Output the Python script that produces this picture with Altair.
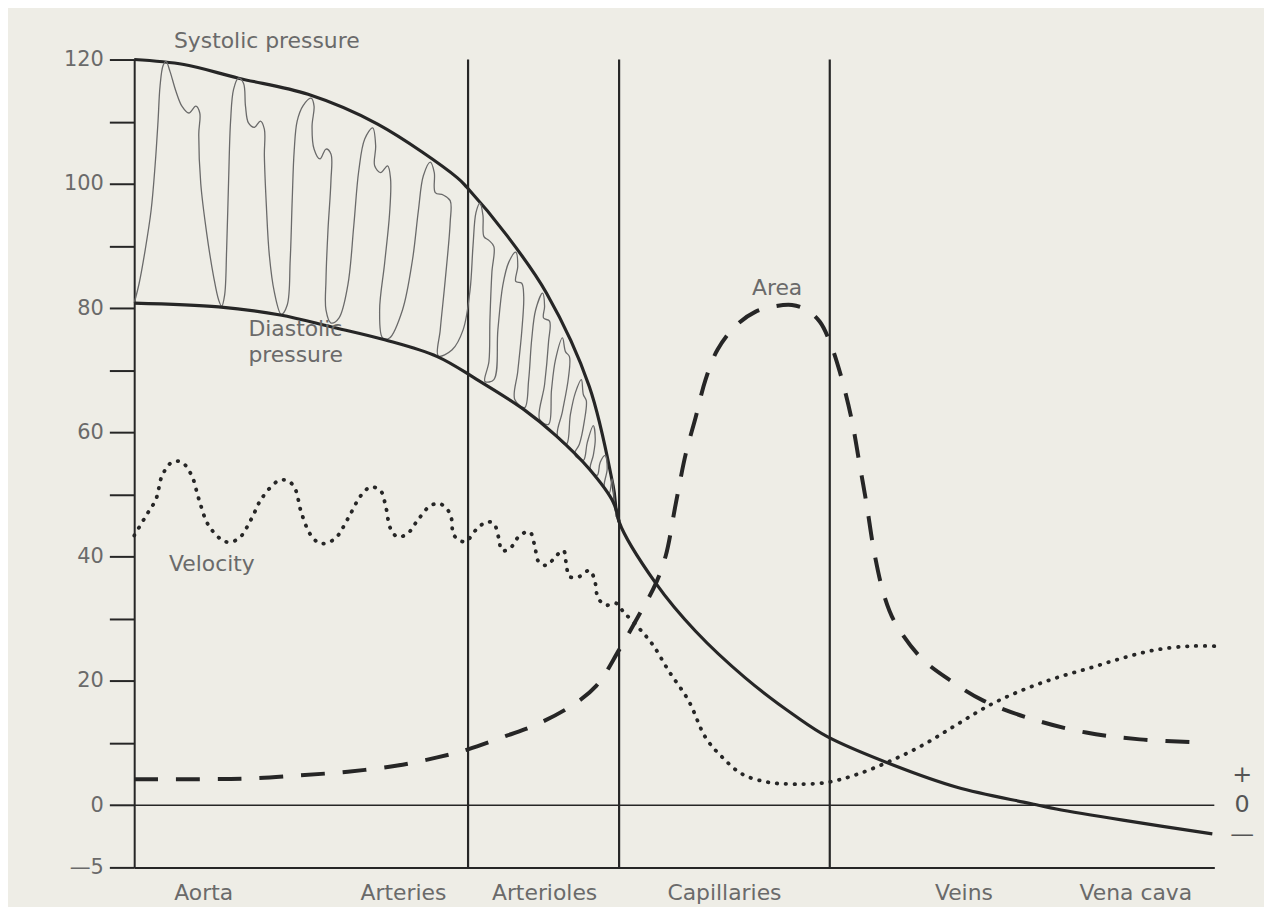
import altair as alt
import pandas as pd

# ---------------- data (x = position along the circulation, arbitrary units 0..1087; values in mmHg) -------------
# Systolic pressure, continuing as mean pressure after the arterioles
press_x = [0, 50, 105, 175, 245, 325, 335, 375, 415, 458, 482, 488,
           525, 565, 615, 665, 698, 765, 828, 895, 910, 928, 995, 1085]
press_v = [120, 119.2, 117.0, 114.4, 109.6, 101.0, 99.4, 91.7, 82.4, 67.4, 51.4, 45.6,
           35.7, 28.0, 20.5, 14.4, 11.0, 6.4, 2.9, 0.5, 0.0, -0.3, -1.2, -2.3]

# Diastolic pressure
dia_x = [0, 85, 147, 198, 252, 305, 345, 392, 425, 458, 482, 488]
dia_v = [80.8, 80.2, 78.9, 77.0, 74.9, 72.2, 68.5, 63.7, 59.4, 54.1, 48.8, 45.6]

# Pulse pressure waveforms between diastolic and systolic
pulse_x = [0, 5, 11, 17, 21, 24, 26, 29, 32, 36, 42, 48, 55, 62, 66, 65, 67, 73, 80, 85, 88,
           91, 93, 95, 97, 100, 105, 110, 112, 115, 121, 127, 131, 131, 133, 136, 141, 148,
           154, 157, 159, 161, 164, 170, 178, 181, 179, 181, 187, 193, 198, 198, 195, 193, 193, 198,
           206, 215, 221, 226, 232, 240, 243, 242, 248, 255, 258, 257, 252, 247, 250,
           257, 270, 280, 286, 291, 298, 302, 303, 311, 318, 318, 313, 308, 306,
           320, 331, 338, 341, 344, 348, 351, 352, 357, 362, 360, 358, 357, 353,
           362, 366, 371, 377, 384, 386, 384, 390, 392, 390, 386, 383,
           393, 397, 400, 404, 411, 413, 412, 418, 417, 413, 408,
           417, 420, 424, 431, 434, 438, 437, 431, 426,
           435, 439, 444, 450, 452, 455, 453, 448, 443,
           452, 456, 462, 464, 462, 459,
           466, 469, 474, 476, 473,
           478, 481, 483, 485]
pulse_v = [80.8, 84.0, 89.3, 95.7, 102.9, 110.1, 115.7, 119.0, 119.7, 118.1, 114.9, 112.5, 111.4, 112.5, 111.4, 108.0, 100.0, 92.0, 85.0, 81.3, 80.3,
           82.1, 89.3, 100.5, 110.1, 115.2, 117.0, 116.2, 112.5, 109.8, 109.1, 110.1, 108.8, 104.5, 96.5, 88.5, 82.6, 79.0,
           80.5, 87.7, 97.3, 105.3, 110.1, 112.6, 113.8, 112.5, 109.3, 105.6, 104.0, 105.6, 104.8, 100.5, 92.5, 84.5, 79.7, 77.6,
           78.4, 83.7, 93.3, 102.1, 107.2, 109.0, 106.1, 102.9, 101.8, 102.9, 100.8, 95.2, 87.2, 79.7, 75.2,
           75.2, 79.7, 87.7, 95.7, 101.3, 103.5, 101.8, 98.6, 98.2, 97.3, 93.8, 84.5, 76.5, 72.3,
           73.3, 76.5, 82.9, 90.1, 95.4, 96.9, 94.9, 91.5, 90.9, 89.9, 85.8, 78.1, 71.4, 68.2,
           68.5, 76.5, 83.7, 87.4, 89.0, 86.7, 84.3, 84.0, 81.9, 76.2, 69.8, 65.3,
           64.0, 68.5, 74.9, 79.7, 82.4, 80.3, 78.4, 77.9, 74.6, 67.7, 62.1,
           61.3, 66.9, 71.7, 75.2, 73.0, 72.2, 68.8, 63.4, 59.4,
           58.1, 62.9, 66.4, 68.5, 66.1, 65.1, 61.8, 58.1, 56.5,
           55.5, 58.4, 61.1, 58.9, 56.3, 54.1,
           53.1, 55.2, 56.3, 54.1, 51.2,
           50.2, 52.5, 49.3, 46.4]

# Velocity (dotted)
vel_x = [0, 12, 22, 28, 38, 48, 58, 65, 75, 92, 105, 118, 128, 145, 155, 162, 168, 178, 188,
         202, 215, 228, 238, 248, 253, 258, 265, 275, 285, 298, 308, 318, 322, 333, 345, 355,
         362, 367, 370, 378, 388, 398, 403, 407, 415, 425, 432, 435, 438, 448, 458, 463, 467,
         475, 485, 492, 508, 522, 538, 558, 575, 592, 612, 638, 665, 698, 728, 762, 795, 828,
         862, 895, 928, 962, 995, 1028, 1062, 1087]
vel_v = [43.4, 46.6, 49.3, 53.0, 55.2, 55.2, 53.0, 49.3, 45.0, 42.4, 42.9, 46.1, 49.3, 52.2, 52.2, 50.9, 47.2, 43.4, 42.1,
         42.9, 46.1, 49.8, 51.2, 50.6, 48.2, 44.5, 43.2, 43.7, 45.8, 48.2, 48.5, 46.9, 43.4, 42.4, 44.5, 45.6,
         45.3, 42.9, 41.0, 41.3, 43.4, 44.0, 41.8, 39.2, 38.6, 40.2, 41.0, 38.6, 36.8, 36.8, 37.8, 36.5, 33.3,
         32.2, 32.5, 31.2, 28.5, 25.8, 21.6, 16.8, 10.9, 7.7, 5.0, 3.7, 3.4, 3.7, 5.0, 7.2, 9.8, 13.0,
         16.2, 18.6, 20.5, 22.1, 23.7, 25.0, 25.6, 25.6]

# Cross-sectional area (dashed)
area_x = [0, 65, 115, 165, 215, 265, 305, 336, 375, 405, 440, 465, 488, 508, 525, 535, 545, 555,
          565, 575, 587, 605, 625, 645, 662, 677, 690, 700, 710, 722, 730, 737, 745, 755, 765,
          792, 822, 855, 905, 958, 1012, 1075]
area_v = [4.2, 4.2, 4.3, 4.8, 5.4, 6.4, 7.7, 9.0, 11.2, 13.0, 16.0, 19.2, 25.0, 30.6, 35.7, 40.2, 48.5, 56.5,
          62.4, 68.5, 73.3, 77.1, 79.4, 80.3, 80.5, 79.7, 77.8, 74.6, 69.8, 62.1, 54.9, 48.5, 40.5, 33.6, 29.6,
          23.7, 20.0, 16.8, 13.8, 11.7, 10.6, 10.1]

# Vessel-segment boundaries
bound_x = [336, 488, 700]

# Segment names along the bottom
seg_names = ["Aorta", "Arteries", "Arterioles", "Capillaries", "Veins", "Vena cava"]
seg_x = [70, 271, 413, 594, 835, 1008]

# Curve labels
ann_text = ["Systolic pressure", "Diastolic", "pressure", "Velocity", "Area"]
ann_x = [40, 115, 115, 35, 647]
ann_y = [123.0, 76.6, 72.4, 38.8, 83.3]
ann_align = ["left", "left", "left", "left", "center"]

# Sign markers at the right
sign_text = ["+", "0", "—"]
sign_y = [4.8, 0, -4.8]
sign_x = 1115

# y-axis ticks (values below 0 are drawn on a doubled scale: -5 sits at -10)
y_ticks = list(range(-10, 121, 10))

# ---------------- chart ----------------
INK = "#262626"
GREY = "#6a6a6a"
FONT = "DejaVu Sans"
XS = alt.Scale(domain=[0, 1087], nice=False, zero=False)
YS = alt.Scale(domain=[-10, 120], nice=False, zero=False)
CALC = "datum.v < 0 ? datum.v * 2 : datum.v"

XAX = alt.Axis(orient="bottom", ticks=False, labels=False, grid=False, title=None,
               domain=True, domainColor=INK, domainWidth=2)
YAX = alt.Axis(orient="left", values=y_ticks, grid=False, title=None, tickSize=25, tickWidth=2,
               tickColor=INK, domain=True, domainColor=INK, domainWidth=2, labelFont=FONT,
               labelFontSize=21, labelColor=GREY, labelPadding=6,
               labelExpr="datum.value == -10 ? '—5' : (datum.value % 20 == 0 ? datum.label : '')")

xenc = alt.X("x:Q", scale=XS, axis=XAX, title=None)
yenc = alt.Y("yp:Q", scale=YS, axis=YAX, title=None)


def df(xs, vs):
    return pd.DataFrame({"x": xs, "v": vs, "i": list(range(len(xs)))})


def curve(xs, vs, **mark):
    return alt.Chart(df(xs, vs)).transform_calculate(yp=CALC).mark_line(**mark).encode(
        x=xenc, y=yenc, order=alt.Order("i:Q"))


pressure = curve(press_x, press_v, color=INK, strokeWidth=3.2, interpolate="catmull-rom")
diastolic = curve(dia_x, dia_v, color=INK, strokeWidth=3.2, interpolate="catmull-rom")
pulses = curve(pulse_x, pulse_v, color=GREY, strokeWidth=1.3, interpolate="catmull-rom")
velocity = curve(vel_x, vel_v, color=INK, strokeWidth=3.8, strokeDash=[0.5, 8.5], strokeCap="round",
                 interpolate="catmull-rom")
area = curve(area_x, area_v, color=INK, strokeWidth=4, strokeDash=[24, 18], interpolate="catmull-rom")

bounds = alt.Chart(pd.DataFrame({"x": bound_x})).mark_rule(color=INK, strokeWidth=2.2).encode(x=xenc)
zero = alt.Chart(pd.DataFrame({"yp": [0]})).mark_rule(color=INK, strokeWidth=1.6).encode(y=yenc)

seg = alt.Chart(pd.DataFrame({"x": seg_x, "t": seg_names, "yp": [-14.2] * len(seg_x)})).mark_text(
    font=FONT, fontSize=22, color=GREY, align="center", baseline="middle"
).encode(x=xenc, y=yenc, text="t:N")

ann_df = pd.DataFrame({"x": ann_x, "yp": ann_y, "t": ann_text, "a": ann_align})
ann_left = alt.Chart(ann_df[ann_df.a == "left"]).mark_text(
    font=FONT, fontSize=22, color=GREY, align="left", baseline="middle"
).encode(x=xenc, y=yenc, text="t:N")
ann_center = alt.Chart(ann_df[ann_df.a == "center"]).mark_text(
    font=FONT, fontSize=22, color=GREY, align="center", baseline="middle"
).encode(x=xenc, y=yenc, text="t:N")

signs = alt.Chart(pd.DataFrame({"x": [sign_x] * 3, "yp": sign_y, "t": sign_text})).mark_text(
    font=FONT, fontSize=24, color="#555555", align="center", baseline="middle"
).encode(x=xenc, y=yenc, text="t:N")

chart = alt.layer(
    pressure, bounds, zero, pulses, diastolic, velocity, area, seg, ann_left, ann_center, signs
).properties(
    width=1087, height=813,
    autosize=alt.AutoSizeParams(type="none"),
    padding={"left": 127, "top": 49, "right": 50, "bottom": 38},
    background="#eeede6",
).configure_view(stroke=None)

chart.save("out.html", embed_options={"renderer": "svg", "actions": False})
